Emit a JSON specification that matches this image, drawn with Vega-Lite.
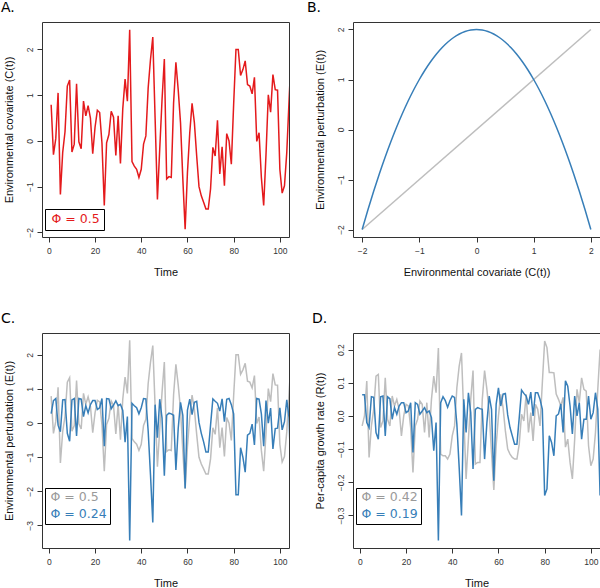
{
  "$schema": "https://vega.github.io/schema/vega-lite/v6.json",
  "background": "white",
  "padding": {"left": 0, "top": 0, "right": 0, "bottom": 0},
  "bounds": "flush",
  "columns": 2,
  "spacing": {"row": 96, "column": 64},
  "resolve": {
    "scale": {"x": "independent", "y": "independent", "color": "independent"},
    "axis": {"x": "independent", "y": "independent"},
    "legend": {"color": "independent"}
  },
  "config": {
    "view": {"stroke": "#333333", "strokeWidth": 1},
    "font": "Liberation Sans",
    "axis": {
      "grid": false, "domain": false, "tickColor": "#333333", "tickSize": 5, "tickWidth": 1,
      "labelFont": "Liberation Sans", "labelFontSize": 8.5, "labelColor": "#333333",
      "titleFont": "Liberation Sans", "titleFontSize": 11, "titleFontWeight": "normal", "titleColor": "#111111"
    },
    "axisX": {"labelPadding": 4, "titlePadding": 12, "labelAngle": 0},
    "title": {"font": "DejaVu Sans", "fontSize": 14, "fontWeight": "normal", "anchor": "start", "frame": "group", "offset": 7, "baseline": "alphabetic", "color": "#000000"},
    "legend": {
      "strokeColor": "#000000", "fillColor": "#ffffff", "padding": 3, "cornerRadius": 0, "strokeWidth": 1,
      "labelFont": "DejaVu Sans", "labelFontSize": 12.5, "rowPadding": 4
    },
    "line": {"strokeWidth": 1.5}
  },
  "datasets": {
    "env": [
      {"t":1,"C":0.79,"E":0.28},{"t":2,"C":-0.30,"E":0.66},{"t":3,"C":0.05,"E":0.72},{"t":4,"C":1.05,"E":-0.06},
      {"t":5,"C":-1.17,"E":-0.25},{"t":6,"C":-0.25,"E":0.68},{"t":7,"C":0.2,"E":0.69},{"t":8,"C":1.2,"E":-0.30},
      {"t":9,"C":1.33,"E":-0.53},{"t":10,"C":-0.24,"E":0.68},{"t":11,"C":-0.07,"E":0.72},{"t":12,"C":1.25,"E":-0.38},
      {"t":13,"C":-0.02,"E":0.72},{"t":14,"C":-0.17,"E":0.70},{"t":15,"C":0.87,"E":0.19},{"t":16,"C":0.55,"E":0.51},
      {"t":17,"C":0.77,"E":0.30},{"t":18,"C":0.5,"E":0.54},{"t":19,"C":-0.28,"E":0.66},{"t":20,"C":0.3,"E":0.66},
      {"t":21,"C":0.67,"E":0.40},{"t":22,"C":0.62,"E":0.45},{"t":23,"C":-0.05,"E":0.72},{"t":24,"C":-1.41,"E":-0.68},
      {"t":25,"C":-0.04,"E":0.72},{"t":26,"C":0.14,"E":0.71},{"t":27,"C":0.65,"E":0.42},{"t":28,"C":0.52,"E":0.53},
      {"t":29,"C":-0.32,"E":0.65},{"t":30,"C":0.55,"E":0.51},{"t":31,"C":-0.49,"E":0.55},{"t":32,"C":0.7,"E":0.37},
      {"t":33,"C":1.35,"E":-0.56},{"t":34,"C":0.87,"E":0.19},{"t":35,"C":2.43,"E":-3.44},{"t":36,"C":-0.45,"E":0.58},
      {"t":37,"C":-0.55,"E":0.51},{"t":38,"C":-0.62,"E":0.45},{"t":39,"C":-0.80,"E":0.27},{"t":40,"C":-0.62,"E":0.45},
      {"t":41,"C":-0.07,"E":0.72},{"t":42,"C":0.11,"E":0.71},{"t":43,"C":1.16,"E":-0.23},{"t":44,"C":1.78,"E":-1.51},
      {"t":45,"C":2.27,"E":-2.91},{"t":46,"C":0.5,"E":0.54},{"t":47,"C":-1.28,"E":-0.43},{"t":48,"C":-0.18,"E":0.70},
      {"t":49,"C":0.9,"E":0.15},{"t":50,"C":1.79,"E":-1.54},{"t":51,"C":-0.83,"E":0.23},{"t":52,"C":-0.78,"E":0.29},
      {"t":53,"C":-0.80,"E":0.27},{"t":54,"C":0.83,"E":0.23},{"t":55,"C":1.72,"E":-1.37},{"t":56,"C":1.12,"E":-0.16},
      {"t":57,"C":0.4,"E":0.61},{"t":58,"C":-0.83,"E":0.23},{"t":59,"C":-1.93,"E":-1.91},{"t":60,"C":-0.69,"E":0.38},
      {"t":61,"C":0.18,"E":0.70},{"t":62,"C":0.82,"E":0.25},{"t":63,"C":0.4,"E":0.61},{"t":64,"C":-0.33,"E":0.64},
      {"t":65,"C":-1.0,"E":0.02},{"t":66,"C":-1.2,"E":-0.30},{"t":67,"C":-1.34,"E":-0.55},{"t":68,"C":-1.49,"E":-0.85},
      {"t":69,"C":-1.49,"E":-0.85},{"t":70,"C":-1.05,"E":-0.06},{"t":71,"C":-0.14,"E":0.71},{"t":72,"C":-0.33,"E":0.64},
      {"t":73,"C":0.45,"E":0.58},{"t":74,"C":-0.72,"E":0.35},{"t":75,"C":-0.13,"E":0.71},{"t":76,"C":-0.98,"E":0.04},
      {"t":77,"C":0.16,"E":0.70},{"t":78,"C":0.0,"E":0.72},{"t":79,"C":-0.51,"E":0.54},{"t":80,"C":0.8,"E":0.27},
      {"t":81,"C":2.0,"E":-2.10},{"t":82,"C":2.0,"E":-2.10},{"t":83,"C":1.43,"E":-0.72},{"t":84,"C":1.56,"E":-1.00},
      {"t":85,"C":1.75,"E":-1.44},{"t":86,"C":1.23,"E":-0.35},{"t":87,"C":1.2,"E":-0.30},{"t":88,"C":1.03,"E":-0.03},
      {"t":89,"C":1.39,"E":-0.64},{"t":90,"C":-0.01,"E":0.72},{"t":91,"C":0.18,"E":0.70},{"t":92,"C":-0.8,"E":0.27},
      {"t":93,"C":-1.41,"E":-0.68},{"t":94,"C":-0.3,"E":0.66},{"t":95,"C":1.01,"E":0.00},{"t":96,"C":0.63,"E":0.44},
      {"t":97,"C":1.45,"E":-0.76},{"t":98,"C":1.12,"E":-0.16},{"t":99,"C":1.11,"E":-0.15},{"t":100,"C":-0.62,"E":0.45},
      {"t":101,"C":-1.14,"E":-0.20},{"t":102,"C":-0.98,"E":0.04},{"t":103,"C":-0.25,"E":0.68},{"t":104,"C":0.9,"E":0.15},
      {"t":105,"C":2.0,"E":-2.10}
    ],
    "growth": [
      {"t":1,"Rl":-0.03,"Rq":0.064},{"t":2,"Rl":0.0,"Rq":0.064},{"t":3,"Rl":0.105,"Rq":-0.02},{"t":4,"Rl":-0.125,"Rq":-0.035},
      {"t":5,"Rl":-0.03,"Rq":0.058},{"t":6,"Rl":0.02,"Rq":0.056},{"t":7,"Rl":0.12,"Rq":-0.05},{"t":8,"Rl":0.125,"Rq":-0.07},
      {"t":9,"Rl":-0.035,"Rq":0.058},{"t":10,"Rl":-0.015,"Rq":0.06},{"t":11,"Rl":0.115,"Rq":-0.06},{"t":12,"Rl":-0.01,"Rq":0.058},
      {"t":13,"Rl":-0.03,"Rq":0.052},{"t":14,"Rl":0.06,"Rq":-0.01},{"t":15,"Rl":0.03,"Rq":0.025},{"t":16,"Rl":0.05,"Rq":0.005},
      {"t":17,"Rl":0.02,"Rq":0.03},{"t":18,"Rl":-0.06,"Rq":0.04},{"t":19,"Rl":0.0,"Rq":0.04},{"t":20,"Rl":0.035,"Rq":0.01},
      {"t":21,"Rl":0.03,"Rq":0.015},{"t":22,"Rl":-0.035,"Rq":0.04},{"t":23,"Rl":-0.17,"Rq":-0.11},{"t":24,"Rl":-0.03,"Rq":0.04},
      {"t":25,"Rl":-0.01,"Rq":0.035},{"t":26,"Rl":0.045,"Rq":0.005},{"t":27,"Rl":0.035,"Rq":0.015},{"t":28,"Rl":-0.05,"Rq":0.025},
      {"t":29,"Rl":0.04,"Rq":0.01},{"t":30,"Rl":-0.065,"Rq":0.015},{"t":31,"Rl":0.05,"Rq":-0.005},{"t":32,"Rl":0.12,"Rq":-0.105},
      {"t":33,"Rl":0.07,"Rq":-0.02},{"t":34,"Rl":0.205,"Rq":-0.375},{"t":35,"Rl":-0.115,"Rq":0.04},{"t":36,"Rl":-0.12,"Rq":0.058},
      {"t":37,"Rl":-0.12,"Rq":0.046},{"t":38,"Rl":-0.13,"Rq":0.026},{"t":39,"Rl":-0.115,"Rq":0.046},{"t":40,"Rl":-0.06,"Rq":0.06},
      {"t":41,"Rl":-0.03,"Rq":0.056},{"t":42,"Rl":0.085,"Rq":-0.025},{"t":43,"Rl":0.15,"Rq":-0.155},{"t":44,"Rl":0.19,"Rq":-0.30},
      {"t":45,"Rl":0.0,"Rq":0.05},{"t":46,"Rl":-0.19,"Rq":-0.05},{"t":47,"Rl":-0.07,"Rq":0.07},{"t":48,"Rl":0.05,"Rq":0.01},
      {"t":49,"Rl":0.137,"Rq":-0.16},{"t":50,"Rl":-0.145,"Rq":0.02},{"t":51,"Rl":-0.14,"Rq":0.025},{"t":52,"Rl":-0.14,"Rq":0.022},
      {"t":53,"Rl":0.05,"Rq":0.02},{"t":54,"Rl":0.137,"Rq":-0.13},{"t":55,"Rl":0.08,"Rq":-0.02},{"t":56,"Rl":0.01,"Rq":0.06},
      {"t":57,"Rl":-0.11,"Rq":0.02},{"t":58,"Rl":-0.223,"Rq":-0.195},{"t":59,"Rl":-0.09,"Rq":0.035},{"t":60,"Rl":0.0,"Rq":0.085},
      {"t":61,"Rl":0.065,"Rq":0.03},{"t":62,"Rl":0.025,"Rq":0.066},{"t":63,"Rl":-0.045,"Rq":0.068},{"t":64,"Rl":-0.1,"Rq":0.003},
      {"t":65,"Rl":-0.115,"Rq":-0.035},{"t":66,"Rl":-0.125,"Rq":-0.06},{"t":67,"Rl":-0.13,"Rq":-0.085},{"t":68,"Rl":-0.13,"Rq":-0.085},
      {"t":69,"Rl":-0.085,"Rq":-0.005},{"t":70,"Rl":0.005,"Rq":0.078},{"t":71,"Rl":-0.015,"Rq":0.068},{"t":72,"Rl":0.065,"Rq":0.06},
      {"t":73,"Rl":-0.05,"Rq":0.035},{"t":74,"Rl":0.01,"Rq":0.072},{"t":75,"Rl":-0.075,"Rq":0.0},{"t":76,"Rl":0.035,"Rq":0.07},
      {"t":77,"Rl":0.02,"Rq":0.07},{"t":78,"Rl":-0.03,"Rq":0.05},{"t":79,"Rl":0.1,"Rq":0.02},{"t":80,"Rl":0.226,"Rq":-0.24},
      {"t":81,"Rl":0.206,"Rq":-0.22},{"t":82,"Rl":0.131,"Rq":-0.06},{"t":83,"Rl":0.131,"Rq":-0.08},{"t":84,"Rl":0.13,"Rq":-0.12},
      {"t":85,"Rl":0.066,"Rq":0.0},{"t":86,"Rl":0.05,"Rq":0.006},{"t":87,"Rl":0.03,"Rq":0.036},{"t":88,"Rl":0.056,"Rq":-0.05},
      {"t":89,"Rl":-0.094,"Rq":0.106},{"t":90,"Rl":-0.07,"Rq":0.09},{"t":91,"Rl":-0.14,"Rq":0.03},{"t":92,"Rl":-0.19,"Rq":-0.054},
      {"t":93,"Rl":-0.07,"Rq":0.06},{"t":94,"Rl":0.08,"Rq":0.0},{"t":95,"Rl":0.04,"Rq":0.04},{"t":96,"Rl":0.115,"Rq":-0.07},
      {"t":97,"Rl":0.08,"Rq":-0.01},{"t":98,"Rl":0.075,"Rq":-0.01},{"t":99,"Rl":-0.09,"Rq":0.06},{"t":100,"Rl":-0.15,"Rq":-0.01},
      {"t":101,"Rl":-0.13,"Rq":0.01},{"t":102,"Rl":-0.05,"Rq":0.07},{"t":103,"Rl":0.08,"Rq":0.02},{"t":104,"Rl":0.2,"Rq":-0.24}
    ],
    "curve": [
      {"x":-2.0,"y":-2.0},{"x":-1.9,"y":-1.61},{"x":-1.8,"y":-1.24},{"x":-1.7,"y":-0.89},{"x":-1.6,"y":-0.56},
      {"x":-1.5,"y":-0.25},{"x":-1.4,"y":0.04},{"x":-1.3,"y":0.31},{"x":-1.2,"y":0.56},{"x":-1.1,"y":0.79},
      {"x":-1.0,"y":1.0},{"x":-0.9,"y":1.19},{"x":-0.8,"y":1.36},{"x":-0.7,"y":1.51},{"x":-0.6,"y":1.64},
      {"x":-0.5,"y":1.75},{"x":-0.4,"y":1.84},{"x":-0.3,"y":1.91},{"x":-0.2,"y":1.96},{"x":-0.1,"y":1.99},
      {"x":0.0,"y":2.0},{"x":0.1,"y":1.99},{"x":0.2,"y":1.96},{"x":0.3,"y":1.91},{"x":0.4,"y":1.84},
      {"x":0.5,"y":1.75},{"x":0.6,"y":1.64},{"x":0.7,"y":1.51},{"x":0.8,"y":1.36},{"x":0.9,"y":1.19},
      {"x":1.0,"y":1.0},{"x":1.1,"y":0.79},{"x":1.2,"y":0.56},{"x":1.3,"y":0.31},{"x":1.4,"y":0.04},
      {"x":1.5,"y":-0.25},{"x":1.6,"y":-0.56},{"x":1.7,"y":-0.89},{"x":1.8,"y":-1.24},{"x":1.9,"y":-1.61},
      {"x":2.0,"y":-2.0}
    ],
    "diag": [{"x":-2.0,"y":-2.0},{"x":2.0,"y":2.0}]
  },
  "concat": [
    {
      "width": 247, "height": 215,
      "title": {"text": "A.", "dx": -41},
      "data": {"name": "env"},
      "mark": {"type": "line", "clip": true, "strokeWidth": 1.5},
      "encoding": {
        "x": {"field": "t", "type": "quantitative", "scale": {"domain": [-2.96, 103.96], "nice": false, "zero": false}, "axis": {"values": [0, 20, 40, 60, 80, 100], "title": "Time"}},
        "y": {"field": "C", "type": "quantitative", "scale": {"domain": [-2.1, 2.6], "nice": false, "zero": false},
          "axis": {"values": [-2, -1, 0, 1, 2], "title": "Environmental covariate (C(t))", "labelAngle": -90, "labelAlign": "center", "labelBaseline": "middle", "labelPadding": 8, "titlePadding": 11}},
        "color": {"datum": "Φ = 0.5", "scale": {"domain": ["Φ = 0.5"], "range": ["#E41A1C"]},
          "legend": {"title": null, "orient": "none", "legendX": 3, "legendY": 187, "labelColor": "#E41A1C", "padding": 4,
            "symbolType": "circle", "symbolSize": 1, "symbolOpacity": 0, "symbolStrokeWidth": 0, "labelOffset": -10, "columnPadding": 0}}
      }
    },
    {
      "width": 247, "height": 215,
      "title": {"text": "B.", "dx": -46},
      "layer": [
        {
          "data": {"name": "diag"},
          "mark": {"type": "line", "clip": true, "strokeWidth": 1.5, "color": "#BEBEBE"},
          "encoding": {
            "x": {"field": "x", "type": "quantitative", "scale": {"domain": [-2.16, 2.16], "nice": false, "zero": false}, "axis": {"values": [-2, -1, 0, 1, 2], "format": "d", "title": "Environmental covariate (C(t))"}},
            "y": {"field": "y", "type": "quantitative", "scale": {"domain": [-2.15, 2.15], "nice": false, "zero": false},
              "axis": {"values": [-2, -1, 0, 1, 2], "format": "d", "title": "Environmental perturbation (E(t))", "labelAngle": -90, "labelAlign": "center", "labelBaseline": "middle", "labelPadding": 8, "titlePadding": 11}}
          }
        },
        {
          "data": {"name": "curve"},
          "mark": {"type": "line", "clip": true, "strokeWidth": 1.5, "color": "#377EB8", "interpolate": "monotone"},
          "encoding": {
            "x": {"field": "x", "type": "quantitative"},
            "y": {"field": "y", "type": "quantitative"}
          }
        }
      ]
    },
    {
      "width": 247, "height": 215,
      "title": {"text": "C.", "dx": -41},
      "data": {"name": "env"},
      "layer": [
        {
          "mark": {"type": "line", "clip": true, "strokeWidth": 1.5},
          "encoding": {
            "x": {"field": "t", "type": "quantitative", "scale": {"domain": [-2.96, 103.96], "nice": false, "zero": false}, "axis": {"values": [0, 20, 40, 60, 80, 100], "title": "Time"}},
            "y": {"field": "C", "type": "quantitative", "scale": {"domain": [-3.66, 2.64], "nice": false, "zero": false},
              "axis": {"values": [-3, -2, -1, 0, 1, 2], "title": "Environmental perturbation (E(t))", "labelAngle": -90, "labelAlign": "center", "labelBaseline": "middle", "labelPadding": 8, "titlePadding": 11}},
            "color": {"datum": "Φ = 0.5", "scale": {"domain": ["Φ = 0.5", "Φ = 0.24"], "range": ["#BEBEBE", "#377EB8"]},
              "legend": {"title": null, "orient": "none", "legendX": 3, "legendY": 155,
                "symbolType": "circle", "symbolSize": 1, "symbolOpacity": 0, "symbolStrokeWidth": 0, "labelOffset": -10, "columnPadding": 0,
                "labelColor": {"expr": "datum.value === 'Φ = 0.5' ? '#9A9A9A' : '#377EB8'"}}}
          }
        },
        {
          "mark": {"type": "line", "clip": true, "strokeWidth": 1.5},
          "encoding": {
            "x": {"field": "t", "type": "quantitative"},
            "y": {"field": "E", "type": "quantitative"},
            "color": {"datum": "Φ = 0.24"}
          }
        }
      ]
    },
    {
      "width": 247, "height": 215,
      "title": {"text": "D.", "dx": -41},
      "data": {"name": "growth"},
      "layer": [
        {
          "mark": {"type": "line", "clip": true, "strokeWidth": 1.5},
          "encoding": {
            "x": {"field": "t", "type": "quantitative", "scale": {"domain": [-2.96, 103.96], "nice": false, "zero": false}, "axis": {"values": [0, 20, 40, 60, 80, 100], "title": "Time"}},
            "y": {"field": "Rl", "type": "quantitative", "scale": {"domain": [-0.398, 0.25], "nice": false, "zero": false},
              "axis": {"values": [-0.3, -0.2, -0.1, 0, 0.1, 0.2], "format": ".1f", "title": "Per-capita growth rate (R(t))", "labelAngle": -90, "labelAlign": "center", "labelBaseline": "middle", "labelPadding": 8, "titlePadding": 11}},
            "color": {"datum": "Φ = 0.42", "scale": {"domain": ["Φ = 0.42", "Φ = 0.19"], "range": ["#BEBEBE", "#377EB8"]},
              "legend": {"title": null, "orient": "none", "legendX": 3, "legendY": 155,
                "symbolType": "circle", "symbolSize": 1, "symbolOpacity": 0, "symbolStrokeWidth": 0, "labelOffset": -10, "columnPadding": 0,
                "labelColor": {"expr": "datum.value === 'Φ = 0.42' ? '#9A9A9A' : '#377EB8'"}}}
          }
        },
        {
          "mark": {"type": "line", "clip": true, "strokeWidth": 1.5},
          "encoding": {
            "x": {"field": "t", "type": "quantitative"},
            "y": {"field": "Rq", "type": "quantitative"},
            "color": {"datum": "Φ = 0.19"}
          }
        }
      ]
    }
  ]
}
